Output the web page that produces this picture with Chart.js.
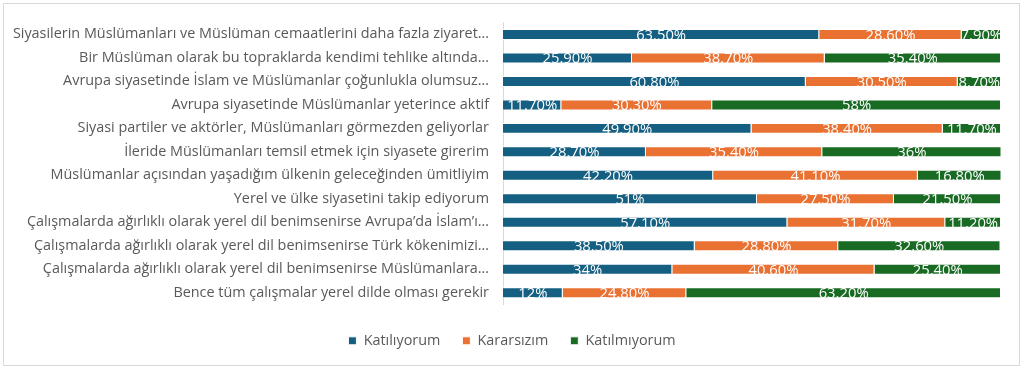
<!DOCTYPE html>
<html><head><meta charset="utf-8">
<script src="https://cdn.jsdelivr.net/npm/chart.js@4/dist/chart.umd.min.js"></script>
<style>
html,body{margin:0;padding:0;background:#fff;}
#wrap{position:relative;width:1024px;height:369px;}
#frame{position:absolute;left:3px;top:3px;width:1015px;height:361px;border:1px solid #d9d9d9;}
canvas{position:absolute;left:0;top:0;}
</style></head>
<body>
<div id="wrap"><div id="frame"></div><canvas id="c" width="1024" height="369"></canvas></div>
<script>
const categories = [
  "Siyasilerin Müslümanları ve Müslüman cemaatlerini daha fazla ziyaret…",
  "Bir Müslüman olarak bu topraklarda kendimi tehlike altında…",
  "Avrupa siyasetinde İslam ve Müslümanlar çoğunlukla olumsuz…",
  "Avrupa siyasetinde Müslümanlar yeterince aktif",
  "Siyasi partiler ve aktörler, Müslümanları görmezden geliyorlar",
  "İleride Müslümanları temsil etmek için siyasete girerim",
  "Müslümanlar açısından yaşadığım ülkenin geleceğinden ümitliyim",
  "Yerel ve ülke siyasetini takip ediyorum",
  "Çalışmalarda ağırlıklı olarak yerel dil benimsenirse Avrupa’da İslam’ı…",
  "Çalışmalarda ağırlıklı olarak yerel dil benimsenirse Türk kökenimizi…",
  "Çalışmalarda ağırlıklı olarak yerel dil benimsenirse Müslümanlara…",
  "Bence tüm çalışmalar yerel dilde olması gerekir"
];
const katiliyorum   = [63.5, 25.9, 60.8, 11.7, 49.9, 28.7, 42.2, 51, 57.1, 38.5, 34, 12];
const kararsizim    = [28.6, 38.7, 30.5, 30.3, 38.4, 35.4, 41.1, 27.5, 31.7, 28.8, 40.6, 24.8];
const katilmiyorum  = [7.9, 35.4, 8.7, 58, 11.7, 36, 16.8, 21.5, 11.2, 32.6, 25.4, 63.2];
const seriesNames   = ["Katılıyorum", "Kararsızım", "Katılmıyorum"];

const FONT = "'Open Sans', sans-serif";
function fmt(v){ return (Number.isInteger(v) ? String(v) : v.toFixed(2)) + '%'; }

const valueLabels = {
  id: 'valueLabels',
  afterDatasetsDraw(chart){
    const ctx = chart.ctx;
    ctx.save();
    ctx.font = "14.8px " + FONT;
    ctx.fillStyle = '#ffffff';
    ctx.textAlign = 'center';
    ctx.textBaseline = 'middle';
    chart.data.datasets.forEach((ds, di) => {
      chart.getDatasetMeta(di).data.forEach((bar, i) => {
        const cx = (bar.x + bar.base) / 2;
        ctx.fillText(fmt(ds.data[i]), cx, bar.y + 1);
      });
    });
    ctx.restore();
  }
};

const colors = ['#156082', '#E97132', '#196B24'];
new Chart(document.getElementById('c'), {
  type: 'bar',
  data: {
    labels: categories,
    datasets: [katiliyorum, kararsizim, katilmiyorum].map((d, k) => ({
      label: seriesNames[k], data: d, backgroundColor: colors[k],
      borderColor: '#ffffff', borderWidth: 1,
      categoryPercentage: 0.9, barPercentage: 0.52
    }))
  },
  options: {
    indexAxis: 'y', responsive: false, animation: false,
    layout: { padding: { left: 0, right: 0, top: 21, bottom: 11 } },
    scales: {
      x: {
        stacked: true, min: 0, max: 100, display: true,
        grid: { display: false, drawTicks: false },
        border: { display: false },
        ticks: { display: false },
        afterFit(axis){ axis.height = 7; }
      },
      y: {
        stacked: true,
        grid: { display: false, drawTicks: false },
        border: { display: true, color: '#d9d9d9', width: 1 },
        ticks: { color: '#595959', font: { family: FONT, size: 14.4 }, padding: 14, autoSkip: false },
        afterFit(axis){ axis.width = 503; }
      },
      yRight: {
        type: 'category', position: 'right', display: true,
        grid: { display: false, drawTicks: false },
        border: { display: false },
        ticks: { display: false },
        afterFit(axis){ axis.width = 23; }
      }
    },
    plugins: {
      legend: {
        position: 'bottom',
        labels: { color: '#595959', font: { family: FONT, size: 14.4 }, boxWidth: 8, boxHeight: 8, padding: 22 }
      },
      tooltip: { enabled: false }
    }
  },
  plugins: [valueLabels]
});
</script>
</body></html>
